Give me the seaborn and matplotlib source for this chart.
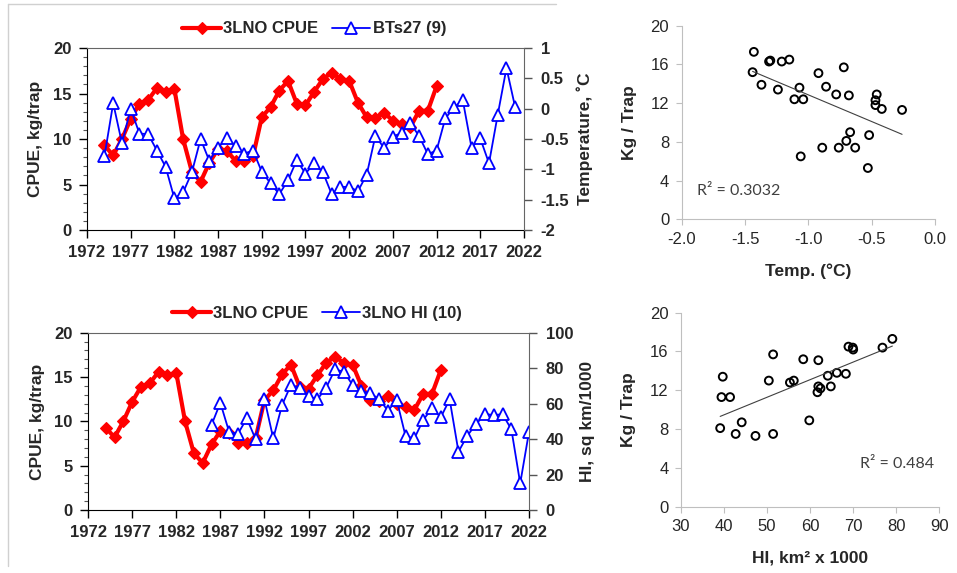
import numpy as np
import pandas as pd
import seaborn as sns
import matplotlib.pyplot as plt
from matplotlib.lines import Line2D

sns.set_style('white')
plt.rcParams['font.family'] = ['Liberation Sans', 'DejaVu Sans']
plt.rcParams['axes.unicode_minus'] = False

# catch per unit effort, 3LNO, 1974-2012
cpue_years = list(range(1974, 2013))
cpue = [9.3, 8.2, 10.0, 12.2, 13.9, 14.3, 15.6, 15.2, 15.5, 10.0,
        6.4, 5.3, 7.4, 8.9, 8.7, 7.6, 7.6, 8.1, 12.4, 13.5,
        15.3, 16.4, 13.9, 13.7, 15.2, 16.6, 17.3, 16.6, 16.4, 14.0,
        12.4, 12.3, 12.9, 12.0, 11.6, 11.3, 13.1, 13.1, 15.8]

# bottom temperature BTs27, 1974-2021
temp_years = list(range(1974, 2022))
temp = [-0.78, 0.09, -0.57, 0.0, -0.41, -0.42, -0.69, -0.96, -1.48, -1.38,
        -1.05, -0.5, -0.86, -0.64, -0.49, -0.61, -0.74, -0.69, -1.04, -1.23,
        -1.41, -1.18, -0.85, -1.07, -0.9, -1.05, -1.41, -1.29, -1.29, -1.36,
        -1.09, -0.45, -0.65, -0.46, -0.4, -0.24, -0.45, -0.75, -0.69, -0.16,
        0.02, 0.14, -0.64, -0.49, -0.9, -0.1, 0.67, 0.02]

# habitat index 3LNO HI, 1986-2022
hi_years = list(range(1986, 2023))
hi = [48, 60.5, 44, 43, 51.7, 39.9, 62.6, 40.4, 59.2, 70.5,
      69, 64.3, 62.4, 69, 79.3, 78, 70.5, 67.1, 65.8, 62.6,
      56, 62, 41.7, 40.4, 50.8, 57.4, 52.3, 62.4, 32.9, 41.9,
      48.5, 54.1, 53.6, 54, 45.5, 15, 44.2]

# scatter: CPUE vs temperature
sc_temp = [-1.43, -1.44, -1.37, -1.30, -1.31, -1.24, -1.21, -1.15, -1.11, -1.07,
           -1.04, -1.06, -0.92, -0.89, -0.86, -0.78, -0.76, -0.72, -0.70, -0.68,
           -0.67, -0.63, -0.52, -0.53, -0.46, -0.47, -0.47, -0.42, -0.26]
sc_temp_cpue = [17.3, 15.2, 13.9, 16.4, 16.3, 13.4, 16.3, 16.5, 12.4, 13.6,
                12.4, 6.5, 15.1, 7.4, 13.7, 12.9, 7.4, 15.7, 8.1, 12.8,
                9.0, 7.4, 8.7, 5.3, 12.9, 12.3, 11.8, 11.4, 11.3]

# scatter: CPUE vs habitat index
sc_hi = [39.1, 39.4, 39.7, 41.4, 42.7, 44.1, 47.3, 50.4, 51.4, 51.4,
         55.3, 56.2, 58.4, 59.8, 61.7, 61.9, 61.9, 62.4, 64.8, 64.1,
         66.2, 68.3, 68.9, 69.9, 70.0, 76.8, 79.1]
sc_hi_cpue = [8.1, 11.3, 13.4, 11.3, 7.5, 8.7, 7.3, 13.0, 15.7, 7.5,
              12.8, 13.0, 15.2, 8.9, 11.8, 15.1, 12.4, 12.2, 12.4, 13.5,
              13.8, 13.7, 16.5, 16.4, 16.2, 16.4, 17.3]

year_ticks = list(range(1972, 2023, 5))

fig = plt.figure(figsize=(9.57, 5.73), dpi=100)

# light frame of the original chart area
fig.add_artist(Line2D([8/957, 556/957], [1-4/573, 1-4/573], transform=fig.transFigure, color='#d0d0d0', lw=1))
fig.add_artist(Line2D([8/957, 8/957], [1-4/573, 1-566/573], transform=fig.transFigure, color='#d0d0d0', lw=1))


def time_panel(rect, right_years, right_vals, right_label, right_name, rlim, rticks, rlabels):
    ax = fig.add_axes(rect)
    sns.lineplot(x=cpue_years, y=cpue, ax=ax, color='red', lw=3, marker='D', markersize=6,
                 markeredgecolor='red', markeredgewidth=0.8, label='3LNO CPUE', legend=False)
    ax.set_xlim(1972, 2022)
    ax.set_ylim(0, 20)
    ax.set_xticks(year_ticks)
    ax.set_xticklabels([str(y) for y in year_ticks], fontweight='bold')
    ax.set_yticks([0, 5, 10, 15, 20])
    ax.set_yticklabels(['0', '5', '10', '15', '20'], fontweight='bold')
    ax.set_yticks(range(0, 21), minor=True)
    ax.tick_params(axis='both', which='major', direction='out', length=6, width=1, labelsize=12, pad=5, color='black')
    ax.tick_params(axis='y', which='minor', direction='out', length=3, width=0.8, color='#555555')
    ax.tick_params(axis='y', which='both', left=True)
    ax.tick_params(axis='x', bottom=True)
    ax.set_ylabel('CPUE, kg/trap', fontsize=12.5, fontweight='bold', labelpad=7)
    ax.set_xlabel('')
    for s in ['left', 'bottom']:
        ax.spines[s].set_color('black')
    ax.spines['top'].set_color('#666666')
    ax.spines['right'].set_visible(False)

    axr = ax.twinx()
    sns.lineplot(x=right_years, y=right_vals, ax=axr, color='#0000ff', lw=1.3, marker='^', markersize=9,
                 markerfacecolor='white', markeredgecolor='#0000ff', markeredgewidth=1.3,
                 label=right_name, legend=False)
    axr.set_ylim(*rlim)
    axr.set_yticks(rticks)
    axr.set_yticklabels(rlabels, fontweight='bold')
    axr.tick_params(axis='y', direction='out', length=6, width=1, labelsize=12, pad=6, right=True, color='#555555')
    axr.set_ylabel(right_label, fontsize=12.5, fontweight='bold', labelpad=5)
    for s in ['left', 'top', 'bottom']:
        axr.spines[s].set_visible(False)
    axr.spines['right'].set_color('#666666')

    h1, l1 = ax.get_legend_handles_labels()
    h2, l2 = axr.get_legend_handles_labels()
    axr.legend(h1 + h2, l1 + l2, loc='lower center', bbox_to_anchor=(0.52, 1.0), ncol=2, frameon=False,
               prop={'weight': 'bold', 'size': 12}, handlelength=2.3, columnspacing=0.8, handletextpad=0.15,
               borderaxespad=0.3)
    return ax, axr


time_panel([0.0909, 0.5986, 0.4566, 0.3176], temp_years, temp, 'Temperature, ˚C', 'BTs27 (9)',
           (-2, 1), [-2, -1.5, -1, -0.5, 0, 0.5, 1], ['-2', '-1.5', '-1', '-0.5', '0', '0.5', '1'])
time_panel([0.0920, 0.1099, 0.4608, 0.3094], hi_years, hi, 'HI, sq km/1000', '3LNO HI (10)',
           (0, 100), [0, 20, 40, 60, 80, 100], ['0', '20', '40', '60', '80', '100'])


def scatter_panel(rect, x, y, xlim, xticks, xfmt, xlabel, r2_text, r2_pos):
    ax = fig.add_axes(rect)
    sns.scatterplot(x=x, y=y, ax=ax, s=32, facecolor='none', edgecolor='black', linewidth=1.4)
    sns.regplot(x=x, y=y, ax=ax, scatter=False, ci=None, color='#404040', line_kws={'lw': 0.8})
    ax.set_xlim(*xlim)
    ax.set_ylim(0, 20)
    ax.set_xticks(xticks)
    ax.set_xticklabels([xfmt.format(v) for v in xticks])
    ax.set_yticks([0, 4, 8, 12, 16, 20])
    ax.tick_params(axis='both', direction='out', length=4, width=0.8, color='#bfbfbf',
                   labelsize=12, labelcolor='#262626', pad=5, left=True, bottom=True)
    sns.despine(ax=ax)
    for s in ['left', 'bottom']:
        ax.spines[s].set_color('#bfbfbf')
    ax.set_xlabel(xlabel, fontsize=12.5, fontweight='bold', labelpad=12)
    ax.set_ylabel('Kg / Trap', fontsize=12.5, fontweight='bold', labelpad=10)
    ax.text(r2_pos[0], r2_pos[1], r2_text, fontsize=11.5, family=['Lato', 'DejaVu Sans'],
            color='#404040', va='center')
    return ax


scatter_panel([0.7123, 0.6173, 0.2647, 0.3378], sc_temp, sc_temp_cpue, (-2.0, 0.0),
              [-2.0, -1.5, -1.0, -0.5, 0.0], '{:.1f}', 'Temp. (°C)', 'R² = 0.3032', (-1.88, 2.9))
scatter_panel([0.7116, 0.1157, 0.2699, 0.3386], sc_hi, sc_hi_cpue, (30, 90),
              [30, 40, 50, 60, 70, 80, 90], '{:d}', 'HI, km² x 1000', 'R² = 0.484', (71.6, 4.4))

fig.savefig('out.png', dpi=100)
